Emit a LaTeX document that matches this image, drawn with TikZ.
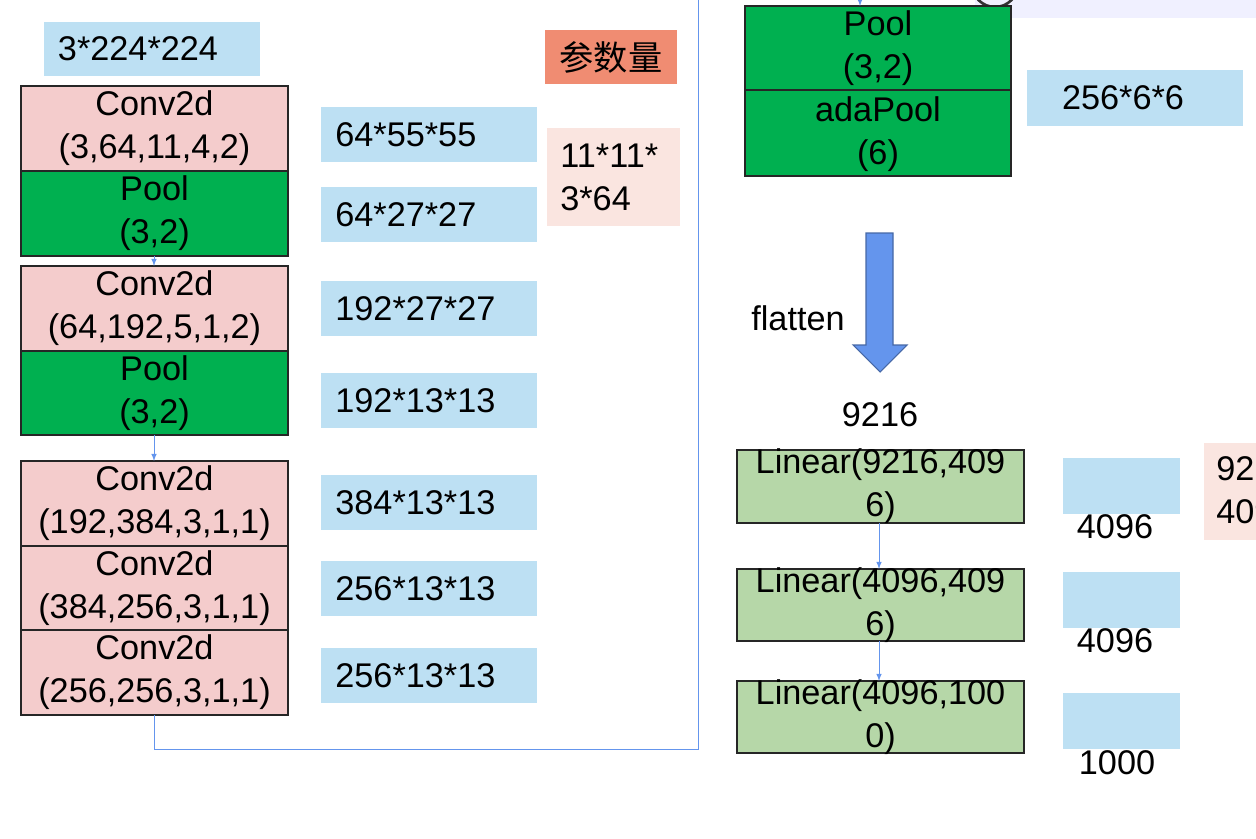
\documentclass[tikz,border=0pt]{standalone}
\usepackage{fontspec}
\setmainfont{Liberation Sans}
\newfontfamily\cjk{Noto Sans CJK SC}
\definecolor{bl}{HTML}{BDE0F3}
\definecolor{pk}{HTML}{F4CCCC}
\definecolor{gr}{HTML}{00B050}
\definecolor{lg}{HTML}{B6D7A8}
\definecolor{lp}{HTML}{FAE5E0}
\definecolor{sal}{HTML}{F08C72}
\definecolor{ln}{HTML}{6495ED}
\begin{document}
\begin{tikzpicture}[x=0.02cm,y=-0.02cm,
  every node/.style={font=\fontsize{19.5}{24.5}\selectfont, align=center, inner sep=0},
  box/.style={draw=black!85, line width=0.8pt},
  info/.style={fill=bl}]
\clip (0,0) rectangle (1256,838);
\useasboundingbox (0,0) rectangle (1256,838);
% top right partial decoration
\fill[blue!6] (975,0) rectangle (1256,18);
\draw[black!80,line width=1.5pt] (995,-16) circle (23);
% left column
\fill[info] (44,22) rectangle (260,76); \node (in) at (138,49) {3*224*224};
\fill[sal] (545,30) rectangle (677,84); \node (cs) at (611,57) {\cjk 参数量};
\def\lbox#1#2#3#4#5{\filldraw[box,fill=#3] (21,#1) rectangle (288,#2); \node (#4) at (154.5,{(#1+#2)/2}) {#5};}
\lbox{86}{171}{pk}{c1}{Conv2d\\(3,64,11,4,2)}
\lbox{171}{256}{gr}{p1}{Pool\\(3,2)}
\lbox{266}{351}{pk}{c2}{Conv2d\\(64,192,5,1,2)}
\lbox{351}{435}{gr}{p2}{Pool\\(3,2)}
\lbox{461}{546}{pk}{c3}{Conv2d\\(192,384,3,1,1)}
\lbox{546}{630}{pk}{c4}{Conv2d\\(384,256,3,1,1)}
\lbox{630}{715}{pk}{c5}{Conv2d\\(256,256,3,1,1)}
\def\ibox#1#2#3{\fill[info] (321,#1) rectangle (537,#1+55); \node[anchor=west] (#2) at (335,#1+28) {#3};}
\ibox{107}{s1}{64*55*55}
\ibox{187}{s2}{64*27*27}
\ibox{281}{s3}{192*27*27}
\ibox{373}{s4}{192*13*13}
\ibox{475}{s5}{384*13*13}
\ibox{561}{s6}{256*13*13}
\ibox{648}{s7}{256*13*13}
\fill[lp] (547,128) rectangle (680,226);
\node[align=left,anchor=west] (pc) at (560,177) {11*11*\\3*64};
\coordinate (a1) at (154,256); \coordinate (a2) at (154,266);
\coordinate (a3) at (154,435); \coordinate (a4) at (154,461);
\coordinate (a5) at (154,715);
\draw[ln,-latex] (a1) -- (a2);
\draw[ln,-latex] (a3) -- (a4);
\coordinate (t1) at (698,0);
\draw[ln] (a5) -- (154,749) -- (698,749) -- (t1);
% right column
\filldraw[box,fill=gr] (745,6) rectangle (1011,90); \node (p3) at (878,48) {Pool\\(3,2)};
\filldraw[box,fill=gr] (745,90) rectangle (1011,176); \node (ap) at (878,134) {adaPool\\(6)};
\coordinate (t2) at (860,-6);
\draw[ln,-latex] (t2) -- (860,6);
\fill[info] (1027,70) rectangle (1243,126); \node (s8) at (1123,98) {256*6*6};
\filldraw[fill=ln, draw=ln!70!black, line width=0.6pt] (866,233) -- (893,233) -- (893,345) -- (907,345) -- (880,372) -- (853,345) -- (866,345) -- cycle;
\node (fl) at (798,318) {flatten};
\node (n9) at (880,415) {9216};
\def\rbox#1#2#3#4{\filldraw[box,fill=lg] (737,#1) rectangle (1024,#2); \node (#3) at (880.5,{(#1+#2)/2}) {#4};}
\rbox{450}{523}{l1}{Linear(9216,409\\6)}
\rbox{569}{641}{l2}{Linear(4096,409\\6)}
\rbox{681}{753}{l3}{Linear(4096,100\\0)}
\coordinate (b1) at (879,523); \coordinate (b2) at (879,569);
\coordinate (b3) at (879,641); \coordinate (b4) at (879,681);
\draw[ln,-latex] (b1) -- (b2);
\draw[ln,-latex] (b3) -- (b4);
\fill[info] (1063,458) rectangle (1180,514); \node (o1) at (1115,527) {4096};
\fill[info] (1063,572) rectangle (1180,628); \node (o2) at (1115,641) {4096};
\fill[info] (1063,693) rectangle (1180,749); \node (o3) at (1117,763) {1000};
\fill[lp] (1204,443) rectangle (1290,540);
\node[align=left,anchor=west] (pq) at (1216,490) {9216*\\4096};
\end{tikzpicture}
\end{document}
